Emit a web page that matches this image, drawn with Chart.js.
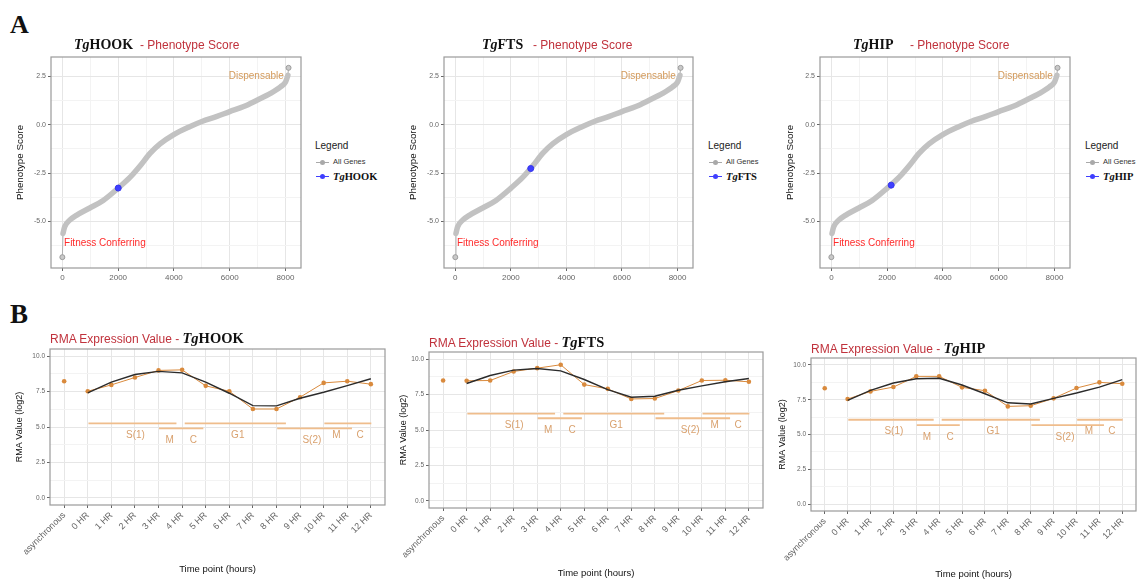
<!DOCTYPE html>
<html>
<head>
<meta charset="utf-8">
<script src="https://cdn.jsdelivr.net/npm/chart.js@4.4.1/dist/chart.umd.min.js"></script>
<style>
html, body { margin: 0; padding: 0; background: #fff; overflow: hidden; }
#page { position: relative; width: 1139px; height: 581px; overflow: hidden; background: #fff;
        font-family: 'Liberation Sans', Arial, sans-serif; }
#page canvas { position: absolute; }
.t { position: absolute; white-space: nowrap; }
.letter { font-family: 'Liberation Serif', serif; font-weight: bold; color: #111; }
.gene { font-family: 'Liberation Serif', serif; font-weight: bold; color: #111; }
.red { color: #c0323c; }
.sym { display: inline-block; position: relative; width: 13px; height: 1px; vertical-align: middle; margin-right: 4px; }
.sym::after { content: ''; position: absolute; left: 4px; top: -2px; width: 5px; height: 5px; border-radius: 50%; background: inherit; }
</style>
</head>
<body>
<div id="page"></div>
<script>
// ---- panel A : phenotype score of all genes, ranked ----
var geneRank  = [0, 24, 84, 264, 504, 984, 1464, 2004, 2424, 2784, 3143, 3503, 3995, 4583, 5003, 5543, 5999, 6503, 6995, 7463, 7823, 8003, 8087, 8111];
var geneScore = [-6.84, -5.61, -5.27, -4.93, -4.68, -4.30, -3.91, -3.27, -2.72, -2.13, -1.48, -0.99, -0.51, -0.09, 0.17, 0.43, 0.68, 0.94, 1.28, 1.62, 1.96, 2.21, 2.55, 2.94];

var geneNames = ['HOOK', 'FTS', 'HIP'];
var highlightRank  = [2004, 2715, 2145];
var highlightScore = [-3.27, -2.26, -3.12];

var rankTicks  = [0, 2000, 4000, 6000, 8000];
var scoreTicks = [-5, -2.5, 0, 2.5];

// ---- panel B : RMA expression over the cell cycle ----
var timeLabels = ['asynchronous', '0 HR', '1 HR', '2 HR', '3 HR', '4 HR', '5 HR', '6 HR',
                  '7 HR', '8 HR', '9 HR', '10 HR', '11 HR', '12 HR'];
var rmaValues = [
  [8.23, 7.52, 7.97, 8.49, 8.99, 9.03, 7.90, 7.52, 6.27, 6.27, 7.10, 8.11, 8.23, 8.02],
  [8.49, 8.47, 8.49, 9.13, 9.36, 9.60, 8.20, 7.90, 7.19, 7.22, 7.78, 8.49, 8.51, 8.40],
  [8.32, 7.55, 8.10, 8.41, 9.18, 9.18, 8.39, 8.15, 7.02, 7.07, 7.60, 8.34, 8.75, 8.65]
];
var fitValues = [
  [null, 7.41, 8.16, 8.70, 8.92, 8.82, 8.16, 7.38, 6.51, 6.49, 7.03, 7.45, 7.92, 8.40],
  [null, 8.28, 8.84, 9.22, 9.34, 9.17, 8.56, 7.85, 7.31, 7.38, 7.80, 8.11, 8.40, 8.63],
  [null, 7.45, 8.17, 8.70, 9.01, 9.04, 8.56, 7.93, 7.28, 7.19, 7.60, 7.98, 8.41, 8.94]
];
var rmaTicks = [0, 2.5, 5, 7.5, 10];

// cell-cycle phase bars (x in time-point index units, row 0 = upper, 1 = lower)
var barStart = [1.03, 4.02, 5.11, 9.03, 11.03];
var barEnd   = [4.76, 5.90, 9.40, 12.20, 13.02];
var barRow   = [0, 1, 0, 1, 0];
var phaseNames = ['S(1)', 'M', 'C', 'G1', 'S(2)', 'M', 'C'];
var phaseX     = [3.02, 4.47, 5.48, 7.36, 10.5, 11.54, 12.54];
var phaseRow   = [0, 1, 1, 0, 1, 0, 0];
var barLevels  = [[5.26, 4.91], [6.16, 5.83], [6.06, 5.67]];

var sans = "'Liberation Sans', Arial, sans-serif";
var page = document.getElementById('page');

function addText(html, cls, x, y, size, extra) {
  var d = document.createElement('div');
  d.className = 't ' + cls;
  d.innerHTML = html;
  d.style.left = x + 'px';
  d.style.top = (y - size * 0.5) + 'px';
  d.style.fontSize = size + 'px';
  d.style.lineHeight = size + 'px';
  if (extra) d.style.cssText += extra;
  page.appendChild(d);
  return d;
}

function near(list, v) {
  return list.some(function (m) { return Math.abs(m - v) < 1e-6; });
}

// ggplot-like frame around the panel, plus text notes in data units
function frame(notes) {
  return {
    id: 'ggFrame',
    afterDatasetsDraw: function (chart) {
      var ctx = chart.ctx, xs = chart.scales.x, ys = chart.scales.y;
      ctx.save();
      notes.forEach(function (n) {
        ctx.font = n.size + 'px ' + sans;
        ctx.fillStyle = n.color;
        ctx.textAlign = n.align;
        ctx.textBaseline = 'middle';
        ctx.fillText(n.text, xs.getPixelForValue(n.x), ys.getPixelForValue(n.y));
      });
      ctx.restore();
    },
    afterDraw: function (chart) {
      var a = chart.chartArea, ctx = chart.ctx;
      ctx.save();
      ctx.strokeStyle = '#9a9a9a';
      ctx.lineWidth = 1.2;
      ctx.strokeRect(a.left, a.top, a.right - a.left, a.bottom - a.top);
      ctx.restore();
    }
  };
}

function axis(o) {
  return {
    type: 'linear',
    bounds: 'data',
    min: o.min,
    max: o.max,
    afterBuildTicks: function (s) { s.ticks = o.ticks.map(function (v) { return { value: v }; }); },
    afterFit: function (s) { if (o.width) s.width = o.width; if (o.height) s.height = o.height; },
    border: { display: false },
    grid: {
      color: function (c) { return near(o.majors, c.tick.value) ? '#e6e6e6' : '#f3f3f3'; },
      tickColor: function (c) { return near(o.majors, c.tick.value) ? '#666' : 'rgba(0,0,0,0)'; },
      tickLength: 3,
      lineWidth: 1
    },
    ticks: {
      autoSkip: false,
      padding: 2,
      color: '#666',
      font: { family: sans, size: o.tickSize },
      minRotation: o.rot || 0,
      maxRotation: o.rot || 0,
      callback: o.label
    },
    title: o.title
  };
}

function buildPanel(cfg) {
  var c = document.createElement('canvas');
  c.width = cfg.box.w;
  c.height = cfg.box.h;
  c.style.left = cfg.box.x + 'px';
  c.style.top = cfg.box.y + 'px';
  page.appendChild(c);
  var yW = cfg.plot.l - cfg.box.x;
  var xH = cfg.box.y + cfg.box.h - cfg.plot.b;
  var xs = axis({
    min: cfg.x.min, max: cfg.x.max, ticks: cfg.x.ticks, majors: cfg.x.majors,
    height: xH, tickSize: cfg.x.tickSize, rot: cfg.x.rot, label: cfg.x.label,
    title: cfg.xTitle ? {
      display: true, text: cfg.xTitle, color: '#111',
      font: { family: sans, size: 9.5, lineHeight: 1.2 },
      padding: { top: 0, bottom: Math.max(0, cfg.box.y + cfg.box.h - cfg.xTitleY - 5.7) }
    } : { display: false }
  });
  var ys = axis({
    min: cfg.y.min, max: cfg.y.max, ticks: cfg.y.ticks, majors: cfg.y.majors,
    width: yW, tickSize: cfg.y.tickSize, label: cfg.y.label,
    title: {
      display: true, text: cfg.yTitle, color: '#111',
      font: { family: sans, size: cfg.yTitleSize, lineHeight: 1.2 },
      padding: { top: Math.max(0, cfg.yTitleX - cfg.box.x - cfg.yTitleSize * 0.6), bottom: 0 }
    }
  });
  return new Chart(c, {
    type: 'line',
    data: { datasets: cfg.datasets },
    options: {
      responsive: false,
      animation: false,
      events: [],
      layout: { padding: { left: 0, bottom: 0, top: cfg.plot.t - cfg.box.y, right: cfg.box.x + cfg.box.w - cfg.plot.r } },
      plugins: { legend: { display: false }, tooltip: { enabled: false } },
      scales: { x: xs, y: ys }
    },
    plugins: [frame(cfg.notes)]
  });
}

function pts(xv, yv) {
  return xv.map(function (x, i) { return { x: x, y: yv[i] }; });
}

// ---------- panel A ----------
var aLayout = [
  { box: { x: 0,   y: 40, w: 310, h: 250 }, plot: { l: 51,  t: 57, r: 301,  b: 268 }, yTitleX: 20,  gene: 74,  red: 140, legend: 315 },
  { box: { x: 395, y: 40, w: 308, h: 250 }, plot: { l: 444, t: 57, r: 693,  b: 268 }, yTitleX: 413, gene: 482, red: 533, legend: 708 },
  { box: { x: 770, y: 40, w: 310, h: 250 }, plot: { l: 820, t: 57, r: 1070, b: 268 }, yTitleX: 790, gene: 853, red: 910, legend: 1085 }
];
var allGenes = pts(geneRank, geneScore);

addText('A', 'letter', 10, 25, 26);

aLayout.forEach(function (L, g) {
  buildPanel({
    box: L.box, plot: L.plot, yTitle: 'Phenotype Score', yTitleX: L.yTitleX, yTitleSize: 9.8,
    x: { min: -407, max: 8557, ticks: [0, 1000, 2000, 3000, 4000, 5000, 6000, 7000, 8000], majors: rankTicks,
         tickSize: 8, label: function (v) { return near(rankTicks, v) ? String(v) : ''; } },
    y: { min: -7.4, max: 3.5, ticks: [-6.25, -5, -3.75, -2.5, -1.25, 0, 1.25, 2.5], majors: scoreTicks,
         tickSize: 7, label: function (v) { return near(scoreTicks, v) ? v.toFixed(1) : ''; } },
    datasets: [
      { data: [{ x: highlightRank[g], y: highlightScore[g] }], showLine: false, order: 0,
        pointRadius: 3, pointBackgroundColor: '#3f3fff', pointBorderColor: '#3434ee', pointBorderWidth: 1 },
      { data: [allGenes[0], allGenes[allGenes.length - 1]], showLine: false, order: 1,
        pointRadius: 2.5, pointBackgroundColor: '#c9c9c9', pointBorderColor: '#9c9c9c', pointBorderWidth: 1 },
      { data: allGenes.slice(1, -1), order: 2, borderColor: '#c2c2c2', borderWidth: 5.5,
        borderCapStyle: 'round', borderJoinStyle: 'round', cubicInterpolationMode: 'monotone', pointRadius: 0 },
      { data: allGenes, order: 3, borderColor: '#b0b0b0', borderWidth: 1, pointRadius: 0 }
    ],
    notes: [
      { text: 'Dispensable', x: 7940, y: 2.5, align: 'right', color: '#d39a5b', size: 10 },
      { text: 'Fitness Conferring', x: 60, y: -6.1, align: 'left', color: '#ff2b2b', size: 10 }
    ]
  });

  addText('<i>Tg</i>' + geneNames[g], 'gene', L.gene, 45, 14);
  addText('- Phenotype Score', 'red', L.red, 45, 12);
  addText('Legend', '', L.legend, 146, 10, 'color:#222');
  addText('<span class="sym" style="background:#a9a9a9"></span>All Genes', '', L.legend + 1, 162, 7.5, 'color:#333');
  addText('<span class="sym" style="background:#3f3fff"></span><span class="gene" style="font-size:10.5px"><i>Tg</i>' + geneNames[g] + '</span>',
          '', L.legend + 1, 176, 10.5);
});

// ---------- panel B ----------
var bLayout = [
  { box: { x: 0,   y: 335, w: 395, h: 246 }, plot: { l: 50,  t: 349, r: 385,  b: 505 }, yTitleX: 20,  xTitleY: 569, red: 50,  titleY: 338 },
  { box: { x: 398, y: 335, w: 375, h: 246 }, plot: { l: 429, t: 352, r: 763,  b: 508 }, yTitleX: 403, xTitleY: 573, red: 429, titleY: 342 },
  { box: { x: 775, y: 340, w: 371, h: 241 }, plot: { l: 811, t: 358, r: 1136, b: 511 }, yTitleX: 783, xTitleY: 574, red: 811, titleY: 348 }
];
var timeIndex = timeLabels.map(function (t, i) { return i; });

addText('B', 'letter', 10, 314, 27);

bLayout.forEach(function (L, g) {
  var orange = '#d98a3d', barColor = '#efbd8c';
  var sets = [
    { data: pts(timeIndex, fitValues[g]).slice(1), order: 0, borderColor: '#2b2b2b', borderWidth: 1.4, pointRadius: 0 },
    { data: pts(timeIndex, rmaValues[g]), order: 1, borderColor: orange, borderWidth: 1,
      segment: { borderColor: function (c) { return c.p0DataIndex === 0 ? 'rgba(0,0,0,0)' : orange; } },
      pointRadius: 2.3, pointBackgroundColor: orange, pointBorderColor: orange, pointBorderWidth: 0 }
  ];
  barStart.forEach(function (s, k) {
    var lv = barLevels[g][barRow[k]];
    sets.push({ data: [{ x: s, y: lv }, { x: barEnd[k], y: lv }], order: 2, borderColor: barColor, borderWidth: 1.8, pointRadius: 0 });
  });
  buildPanel({
    box: L.box, plot: L.plot, yTitle: 'RMA Value (log2)', yTitleX: L.yTitleX, yTitleSize: 9,
    xTitle: 'Time point (hours)', xTitleY: L.xTitleY,
    x: { min: -0.6, max: 13.6, ticks: timeIndex, majors: timeIndex, tickSize: 9, rot: 45,
         label: function (v) { return timeLabels[v]; } },
    y: { min: -0.5, max: 10.5, ticks: [0, 1.25, 2.5, 3.75, 5, 6.25, 7.5, 8.75, 10], majors: rmaTicks,
         tickSize: 6.5, label: function (v) { return near(rmaTicks, v) ? v.toFixed(1) : ''; } },
    datasets: sets,
    notes: phaseNames.map(function (p, k) {
      return { text: p, x: phaseX[k], y: barLevels[g][phaseRow[k]] - 0.85, align: 'center', color: '#d9a16e', size: 10 };
    })
  });
  addText('RMA Expression Value - <span class="gene" style="font-size:14.5px"><i>Tg</i>' + geneNames[g] + '</span>',
          'red', L.red, L.titleY, 12);
});
</script>
</body>
</html>
